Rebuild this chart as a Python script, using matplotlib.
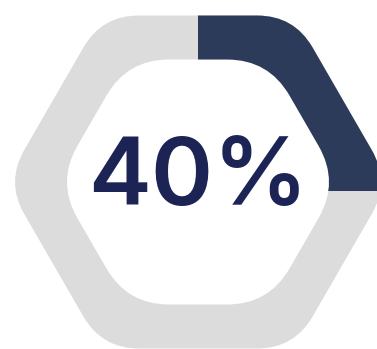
import numpy as np
import matplotlib.pyplot as plt
from matplotlib.path import Path
from matplotlib.patches import PathPatch, Wedge

# --- Data ---------------------------------------------------------------------
LABEL_VALUE = 40          # number printed in the middle
ARC_SHARE = 0.25          # share of the ring drawn dark

# --- Layout (pixel coordinates) -----------------------------------------------
W, H = 377, 349
CX, CY = 198, 182
OUTER_H, OUTER_CUT = 166.5, 37     # apothem, corner rounding cut
INNER_H, INNER_CUT = 122.5, 41.6
SPLIT_Y = 191                      # y where the dark part ends

GREY = '#dcdcdc'
DARK = '#2c3b5a'
TEXT = '#1c2455'


def hex_path(h, cut, reverse=False):
    """Flat-top hexagon with rounded corners (quadratic bezier)."""
    a = h * 2 / np.sqrt(3)
    pts = [(CX - a, CY), (CX - a / 2, CY - h), (CX + a / 2, CY - h),
           (CX + a, CY), (CX + a / 2, CY + h), (CX - a / 2, CY + h)]
    if reverse:
        pts = pts[::-1]
    pts = [np.array(p) for p in pts]
    verts, codes = [], []
    n = len(pts)
    for i in range(n):
        v = pts[i]
        prev = pts[i - 1]
        nxt = pts[(i + 1) % n]
        p0 = v + (prev - v) / np.linalg.norm(prev - v) * cut
        p2 = v + (nxt - v) / np.linalg.norm(nxt - v) * cut
        verts.append(p0)
        codes.append(Path.MOVETO if i == 0 else Path.LINETO)
        verts += [v, p2]
        codes += [Path.CURVE3, Path.CURVE3]
    verts.append(verts[0])
    codes.append(Path.CLOSEPOLY)
    return verts, codes


ov, oc = hex_path(OUTER_H, OUTER_CUT)
iv, ic = hex_path(INNER_H, INNER_CUT, reverse=True)
ring = Path(np.array(ov + iv), oc + ic)

fig = plt.figure(figsize=(W / 100, H / 100), dpi=100)
ax = fig.add_axes([0, 0, 1, 1])
ax.set_xlim(0, W)
ax.set_ylim(H, 0)
ax.axis('off')

ax.add_patch(PathPatch(ring, facecolor=GREY, edgecolor='none'))

dark = PathPatch(ring, facecolor=DARK, edgecolor='none')
ax.add_patch(dark)
# clockwise from 12 o'clock (y axis is inverted, so angles run clockwise)
start = -90
end = start + 360 * ARC_SHARE
clip = Wedge((CX, SPLIT_Y), 400, start, end, transform=ax.transData)
dark.set_clip_path(clip)

ax.text(198, 180, f'{LABEL_VALUE}%', ha='center', va='center',
        fontsize=68, color=TEXT, family='Inter', fontweight='semibold')

fig.savefig('out.png', dpi=100)
